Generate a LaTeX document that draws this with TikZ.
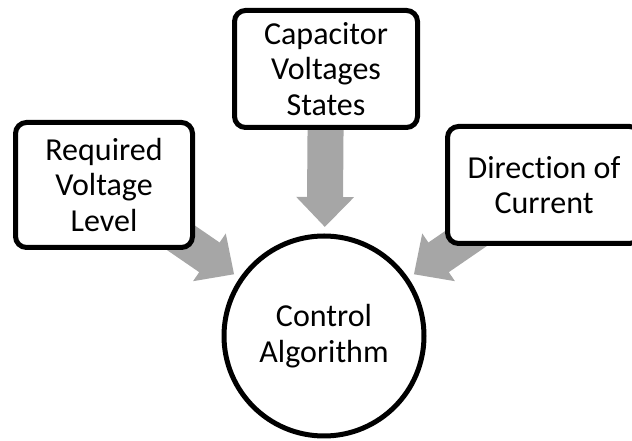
\documentclass[tikz,border=0pt]{standalone}
\usepackage{fontspec}
\setmainfont[Ligatures={NoCommon}]{Carlito}
\usetikzlibrary{arrows.meta,calc,backgrounds}
\definecolor{flowgray}{HTML}{A6A6A6}
\tikzset{
  x=1pt, y=1pt,
  infobox/.style={draw=black, line width=5pt, rounded corners=11pt, fill=white,
    align=center, inner sep=0pt, font=\fontsize{32}{35.5}\selectfont},
  core/.style={draw=black, line width=5pt, circle, fill=white, minimum size=200pt,
    inner sep=0pt, align=center, font=\fontsize{32}{35.5}\selectfont},
  bigarrow/.style={draw=flowgray, line width=36pt,
    -{Triangle[length=30pt,width=56pt]}},
}
\begin{document}
\begin{tikzpicture}
\useasboundingbox (0,0) rectangle (632,441);
\clip (0,0) rectangle (632,441);

% central block and the three inputs
\node[core] (ctrl) at (324,105) {Control\\Algorithm};
\node[infobox, minimum width=183pt, minimum height=117pt] (cap) at (326,372)
  {Capacitor\\Voltages\\States};
\node[infobox, minimum width=177pt, minimum height=125pt] (req) at (104,256)
  {Required\\Voltage\\Level};
\node[infobox, minimum width=193pt, minimum height=117pt] (dir) at (544,256)
  {Direction of\\Current};

% wide gray arrows running under the boxes toward the circle
\begin{scope}[on background layer]
  \foreach \src in {cap,req,dir}
    \draw[bigarrow] (\src.center) -- ($(ctrl.center)!109pt!(\src.center)$);
\end{scope}
\end{tikzpicture}
\end{document}
